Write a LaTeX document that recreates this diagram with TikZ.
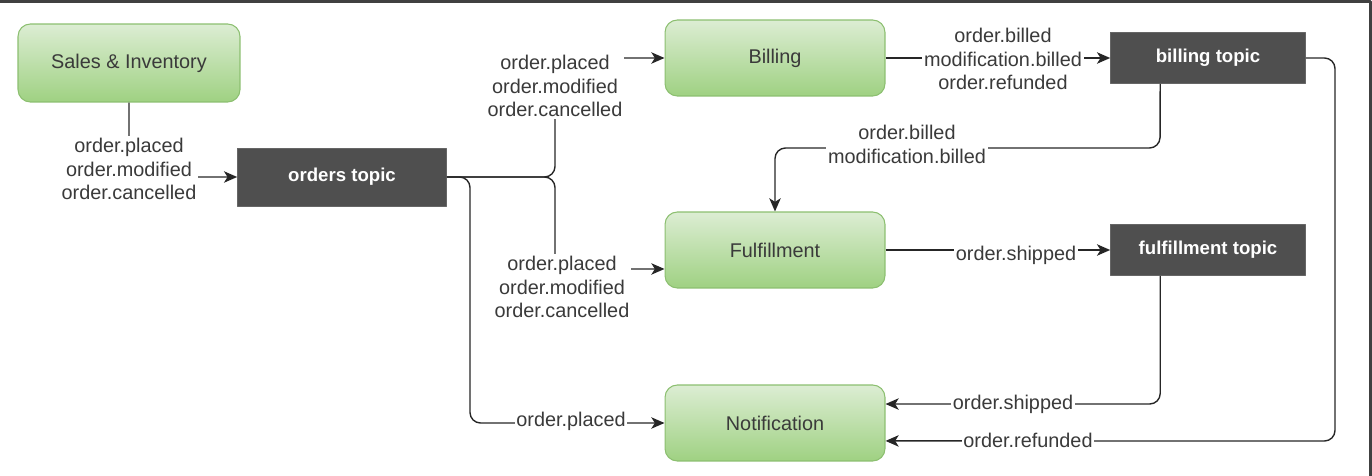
\documentclass[tikz,border=0pt]{standalone}
\usepackage{fontspec}
\setmainfont{Liberation Sans}
\usetikzlibrary{positioning,arrows.meta}
\definecolor{svctop}{HTML}{DCEDD3}
\definecolor{svcbot}{HTML}{9FD182}
\definecolor{svcline}{HTML}{8CBF70}
\definecolor{topicfill}{HTML}{4F4F4F}
\definecolor{inkgray}{HTML}{3A3A3A}
\tikzset{
	service/.style={draw=svcline, line width=0.6pt, rounded corners=7pt, top color=svctop, bottom color=svcbot, text=inkgray, minimum width=4.4cm, minimum height=1.52cm},
	topic/.style={draw=black!60, fill=topicfill, text=white, font=\fontsize{10.6}{13}\selectfont\bfseries, minimum width=3.9cm, minimum height=1.02cm},
	flow/.style={->, draw=black!85, line width=0.8pt, rounded corners=6pt},
	msg/.style={fill=white, align=center, text=inkgray, inner sep=1pt},
}
\begin{document}
\begin{tikzpicture}[x=0.02cm, y=-0.02cm, font=\fontsize{11.3}{13.6}\selectfont, line join=round, >={Stealth[length=7.5pt,width=6.5pt,inset=2pt]}]
	\useasboundingbox (0,0) rectangle (1372,476);
	\draw[black!75, line width=1.6pt] (0,1.4) -| (1370.6,476);
	% services and topics
	\node[service, minimum width=4.44cm, minimum height=1.56cm] (sales) at (129,63) {Sales \& Inventory};
	\node[topic, minimum width=4.18cm, minimum height=1.16cm] (orders) at (342,177) {orders topic};
	\node[service] (billing) at (775,58) {Billing};
	\node[service] (fulfil) at (775,250) {Fulfillment};
	\node[service] (notif) at (775,423) {Notification};
	\node[topic] (btopic) at (1208,58) {billing topic};
	\node[topic] (ftopic) at (1208,250) {fulfillment topic};
	\coordinate (fork) at (555,177);
	\coordinate (drop) at (470,177);
	\coordinate (bturn) at (1160,148);
	\coordinate (rail) at (1335,441);
	% connectors
	\draw[flow] (sales.south) |- (orders.west);
	\draw[flow] (orders.east) -- (fork) |- (billing.west);
	\draw[flow] (orders.east) -- (fork) |- ([yshift=-10.8pt]fulfil.west);
	\draw[flow] (orders.east) -- (drop) |- (notif.west);
	\draw[flow] (billing.east) -- (btopic.west);
	\draw[flow] ([xshift=-27.2pt]btopic.south) -- (bturn) -| (fulfil.north);
	\draw[flow] (fulfil.east) -- (ftopic.west);
	\draw[flow] ([xshift=-27.2pt]ftopic.south) |- ([yshift=10.8pt]notif.east);
	\draw[flow] (btopic.east) -| (rail) -- ([yshift=-10.2pt]notif.east);
	% message labels
	\node[msg] (m1) at (129,169) {order.placed\\order.modified\\order.cancelled};
	\node[msg] (m2) at (555,86) {order.placed\\order.modified\\order.cancelled};
	\node[msg] (m3) at (562,287) {order.placed\\order.modified\\order.cancelled};
	\node[msg] (m4) at (571,421) {order.placed};
	\node[msg] (m5) at (1003,59) {order.billed\\modification.billed\\order.refunded};
	\node[msg] (m6) at (907,144) {order.billed\\modification.billed};
	\node[msg] (m7) at (1016,255) {order.shipped};
	\node[msg] (m8) at (1013,404) {order.shipped};
	\node[msg] (m9) at (1028,440) {order.refunded};
\end{tikzpicture}
\end{document}
